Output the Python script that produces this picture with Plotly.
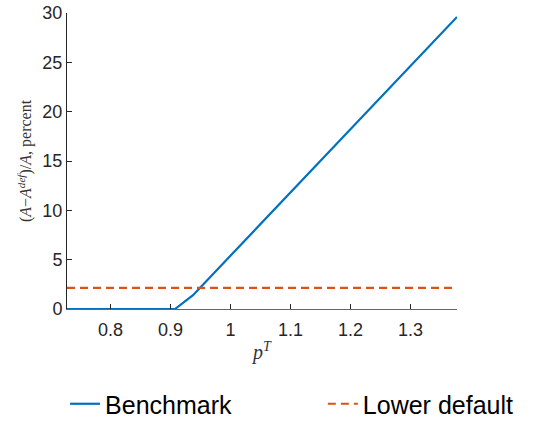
import plotly.graph_objects as go

# Relative change in A against p^T
p_T = [0.7275, 0.9075, 0.9375, 1.3775]
benchmark = [0.0, 0.0, 1.4, 29.6]

# Lower-default scenario: constant level
p_T_lower = [0.7275, 1.3775]
lower_default = [2.15, 2.15]

x_ticks = [0.8, 0.9, 1.0, 1.1, 1.2, 1.3]
y_ticks = [0, 5, 10, 15, 20, 25, 30]

fig = go.Figure()
fig.add_trace(go.Scatter(
    x=p_T, y=benchmark, mode="lines", name="Benchmark",
    line=dict(color="#0072BD", width=2.2), legend="legend",
))
fig.add_trace(go.Scatter(
    x=p_T_lower, y=lower_default, mode="lines", name="Lower default",
    line=dict(color="#D95319", width=2.2, dash="8px,5px"), legend="legend2",
))

axis_common = dict(
    showgrid=False, zeroline=False, showline=True, linewidth=1,
    ticks="inside", ticklen=5, tickwidth=1,
    tickfont=dict(family="Liberation Sans", size=18, color="#262626"),
)

fig.update_xaxes(
    range=[0.7275, 1.3775], tickvals=x_ticks, linecolor="#666666",
    tickcolor="#262626", ticklabelstandoff=4,
    title=dict(text="<i>p</i><sup><i>T</i></sup>",
               font=dict(family="Liberation Serif", size=20, color="#333333"),
               standoff=6),
    **axis_common,
)
fig.update_yaxes(
    range=[0, 30], tickvals=y_ticks, linecolor="#262626", tickcolor="#262626",
    title=dict(text="(<i>A</i>−<i>A</i><sup><i>def</i></sup>)/<i>A</i>, percent",
               font=dict(family="Liberation Serif", size=16, color="#333333"),
               standoff=6),
    **axis_common,
)

legend_common = dict(
    orientation="h", y=-0.321, yanchor="middle", xanchor="left",
    font=dict(family="Liberation Sans", size=25, color="#000000"),
    bgcolor="rgba(0,0,0,0)",
)

fig.update_layout(
    width=545, height=425,
    margin=dict(l=67, r=88, t=13, b=116, autoexpand=False),
    plot_bgcolor="white", paper_bgcolor="white",
    showlegend=True,
    legend=dict(x=-0.005, **legend_common),
    legend2=dict(x=0.656, **legend_common),
)

fig.write_html("out.html")
